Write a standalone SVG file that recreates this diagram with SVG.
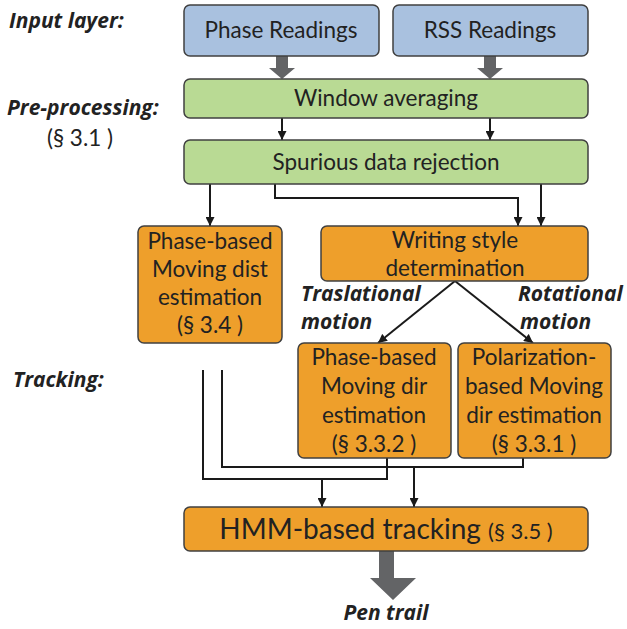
<svg xmlns="http://www.w3.org/2000/svg" width="627" height="629" viewBox="0 0 627 629">
  <style>
    .box { stroke: #404040; stroke-width: 1.5; }
    .blue { fill: #A9C1DF; }
    .green { fill: #B9DA94; }
    .orange { fill: #EE9F2B; }
    .t { font-family: Lato, "Liberation Sans", sans-serif; font-size: 22.5px; fill: #222; text-anchor: middle; }
    .lbl { font-family: "Open Sans", "Liberation Sans", sans-serif; font-size: 21px; font-weight: bold; font-style: italic; fill: #222; }
    .wire { fill: none; stroke: #1a1a1a; stroke-width: 2; }
    .fat { fill: #636466; }
  </style>
  <defs>
    <marker id="arr" viewBox="0 0 10 10" refX="10" refY="5" markerWidth="9" markerHeight="9" markerUnits="userSpaceOnUse" orient="auto">
      <path d="M0,0 L10,5 L0,10 z" fill="#1a1a1a"/>
    </marker>
  </defs>

  <!-- side labels -->
  <text class="lbl" x="9" y="28">Input layer:</text>
  <text class="lbl" x="7" y="115">Pre-processing:</text>
  <text class="t" x="80" y="146">(§ 3.1 )</text>
  <text class="lbl" x="13" y="387">Tracking:</text>
  <text class="lbl" x="301" y="301">Traslational</text>
  <text class="lbl" x="301" y="329">motion</text>
  <text class="lbl" x="518" y="301">Rotational</text>
  <text class="lbl" x="520" y="329">motion</text>

  <!-- connectors -->
  <g id="connectors">
    <path class="fat" d="M276,56 h12 v12 h7 l-13,11 l-13,-11 h7 z"/>
    <path class="fat" d="M484,56 h12 v12 h7 l-13,11 l-13,-11 h7 z"/>
    <path class="wire" d="M282,118 V140" marker-end="url(#arr)"/>
    <path class="wire" d="M490,118 V140" marker-end="url(#arr)"/>
    <path class="wire" d="M210,184 V226" marker-end="url(#arr)"/>
    <path class="wire" d="M275,184 V198 H518 V226" marker-end="url(#arr)"/>
    <path class="wire" d="M541,184 V226" marker-end="url(#arr)"/>
    <path class="wire" d="M455,281 L378,343" marker-end="url(#arr)"/>
    <path class="wire" d="M455,281 L533,343" marker-end="url(#arr)"/>
    <path class="wire" d="M203,370 V479 H387 V458"/>
    <path class="wire" d="M222,370 V467 H523 V458"/>
    <path class="wire" d="M322,479 V507" marker-end="url(#arr)"/>
    <path class="wire" d="M414,467 V507" marker-end="url(#arr)"/>
    <path class="fat" d="M379,551 h15 v27 h22 l-23,22 l-23,-22 h9 z"/>
  </g>

  <g id="phase-readings">
    <rect class="box blue" x="184" y="5" width="195" height="51" rx="6"/>
    <text class="t" x="281" y="38">Phase Readings</text>
  </g>
  <g id="rss-readings">
    <rect class="box blue" x="393" y="5" width="195" height="51" rx="6"/>
    <text class="t" x="490" y="38">RSS Readings</text>
  </g>
  <g id="window-averaging">
    <rect class="box green" x="184" y="79" width="404" height="39" rx="6"/>
    <text class="t" x="386" y="106">Window averaging</text>
  </g>
  <g id="spurious-rejection">
    <rect class="box green" x="184" y="140" width="404" height="44" rx="6"/>
    <text class="t" x="386" y="170">Spurious data rejection</text>
  </g>
  <g id="moving-dist">
    <rect class="box orange" x="138" y="226" width="144" height="117" rx="6"/>
    <text class="t" x="210" y="249">Phase-based</text>
    <text class="t" x="210" y="277">Moving dist</text>
    <text class="t" x="210" y="305">estimation</text>
    <text class="t" x="210" y="333">(§ 3.4 )</text>
  </g>
  <g id="writing-style">
    <rect class="box orange" x="321" y="226" width="267" height="55" rx="6"/>
    <text class="t" x="455" y="248">Writing style</text>
    <text class="t" x="455" y="276">determination</text>
  </g>
  <g id="phase-dir">
    <rect class="box orange" x="298" y="343" width="153" height="115" rx="6"/>
    <text class="t" x="374" y="365">Phase-based</text>
    <text class="t" x="374" y="394">Moving dir</text>
    <text class="t" x="374" y="423">estimation</text>
    <text class="t" x="374" y="452">(§ 3.3.2 )</text>
  </g>
  <g id="polarization-dir">
    <rect class="box orange" x="458" y="343" width="153" height="115" rx="6"/>
    <text class="t" x="534" y="365">Polarization-</text>
    <text class="t" x="534" y="394">based Moving</text>
    <text class="t" x="534" y="423">dir estimation</text>
    <text class="t" x="534" y="452">(§ 3.3.1 )</text>
  </g>
  <g id="hmm-tracking">
    <rect class="box orange" x="184" y="507" width="404" height="44" rx="6"/>
    <text class="t" x="386" y="539"><tspan font-size="28">HMM-based tracking </tspan><tspan font-size="22">(§ 3.5 )</tspan></text>
  </g>
  <text class="lbl" x="386" y="620" text-anchor="middle">Pen trail</text>
</svg>
